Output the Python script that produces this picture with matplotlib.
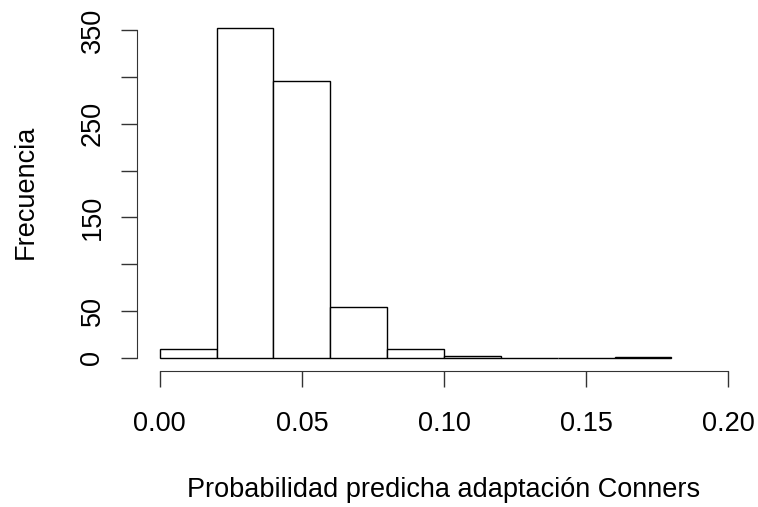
import matplotlib
matplotlib.use("Agg")
import matplotlib.pyplot as plt
import numpy as np

plt.rcParams['font.family'] = ['Liberation Sans', 'DejaVu Sans']

bin_edges = [0.00, 0.02, 0.04, 0.06, 0.08, 0.10, 0.12, 0.14, 0.16, 0.18]
counts = [9, 352, 296, 54, 9, 2, 0, 0, 1]
x_ticks = [0.00, 0.05, 0.10, 0.15, 0.20]
x_tick_labels = ["0.00", "0.05", "0.10", "0.15", "0.20"]
y_ticks = [0, 50, 100, 150, 200, 250, 300, 350]
y_tick_labels = ["0", "50", "", "150", "", "250", "", "350"]
xlabel = "Probabilidad predicha adaptación Conners"
ylabel = "Frecuencia"

W, H = 758, 507
FS = 19.5
fig = plt.figure(figsize=(W/100, H/100), dpi=100)
ax = fig.add_axes([137/W, 1-371/H, 614/W, 356/H])

lefts = np.array(bin_edges[:-1])
widths = np.diff(bin_edges)
ax.bar(lefts, counts, width=widths, align='edge', facecolor='white',
       edgecolor='black', linewidth=1.0)

ax.set_xlim(-0.008, 0.208)
ax.set_ylim(-14, 366)

for s in ['top', 'right']:
    ax.spines[s].set_visible(False)
ax.spines['left'].set_bounds(0, 350)
ax.spines['bottom'].set_bounds(0, 0.20)
ax.spines['left'].set_color('#333333')
ax.spines['bottom'].set_color('#333333')

ax.set_xticks(x_ticks)
ax.set_xticklabels(x_tick_labels, fontsize=FS)
ax.set_yticks(y_ticks)
ax.set_yticklabels(y_tick_labels, fontsize=FS, rotation=90, va='center')
ax.tick_params(axis='both', length=11.2, width=1, color='#333333')
ax.tick_params(axis='x', pad=17.5)
ax.tick_params(axis='y', pad=11.5)

fig.text(444/W, (H-497)/H, xlabel, fontsize=FS, ha='center', va='baseline')
fig.text(39/W, 192/H, ylabel, fontsize=FS, rotation=90, ha='right', va='center')
fig.texts[-1].set_y(1-192/H)

fig.savefig("out.png", dpi=100)
